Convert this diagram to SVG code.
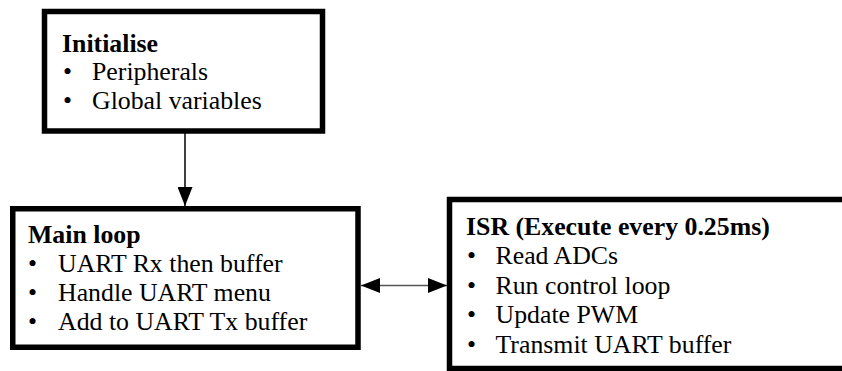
<svg xmlns="http://www.w3.org/2000/svg" width="842" height="371" viewBox="0 0 842 371">
<style>
.box{fill:#fff;stroke:#000;stroke-width:5.5}
.t{font-family:"Liberation Serif","Times New Roman",serif;font-size:25.8px;fill:#000}
.b{font-weight:bold}
.conn{stroke:#000;stroke-width:1.5;fill:none}
.grey{stroke:#555}
</style>
<defs>
<marker id="arr" viewBox="0 0 19 15" refX="19" refY="7.5" markerWidth="19" markerHeight="15" markerUnits="userSpaceOnUse" orient="auto-start-reverse">
<path d="M0,0 L19,7.5 L0,15 Z" fill="#000"/>
</marker>
</defs>
<rect x="0" y="0" width="842" height="371" fill="#fff"/>
<g id="initialise">
<rect class="box" x="44.5" y="11.5" width="278" height="119.5"/>
<text class="t b" x="62" y="51.5">Initialise</text>
<text class="t" x="63" y="80">•</text>
<text class="t" x="92" y="80">Peripherals</text>
<text class="t" x="63" y="108.5">•</text>
<text class="t" x="92" y="108.5">Global variables</text>
</g>
<g id="mainloop">
<rect class="box" x="12.75" y="208.75" width="345.25" height="138.5"/>
<text class="t b" x="28" y="243">Main loop</text>
<text class="t" x="28" y="271.5">•</text>
<text class="t" x="58" y="271.5">UART Rx then buffer</text>
<text class="t" x="28" y="300.5">•</text>
<text class="t" x="58" y="300.5">Handle UART menu</text>
<text class="t" x="28" y="330">•</text>
<text class="t" x="58" y="330">Add to UART Tx buffer</text>
</g>
<g id="isr">
<rect class="box" x="449.5" y="199.5" width="400" height="169"/>
<text class="t b" x="466" y="235">ISR (Execute every 0.25ms)</text>
<text class="t" x="467" y="263.5">•</text>
<text class="t" x="495.5" y="263.5">Read ADCs</text>
<text class="t" x="467" y="293.5">•</text>
<text class="t" x="495.5" y="293.5">Run control loop</text>
<text class="t" x="467" y="323">•</text>
<text class="t" x="495.5" y="323">Update PWM</text>
<text class="t" x="467" y="352.5">•</text>
<text class="t" x="495.5" y="352.5">Transmit UART buffer</text>
</g>
<g id="connectors">
<line class="conn" x1="185" y1="133" x2="185" y2="206" marker-end="url(#arr)"/>
<line class="conn grey" x1="361" y1="285.5" x2="447" y2="285.5" stroke-width="2" marker-start="url(#arr)" marker-end="url(#arr)"/>
</g>
</svg>
